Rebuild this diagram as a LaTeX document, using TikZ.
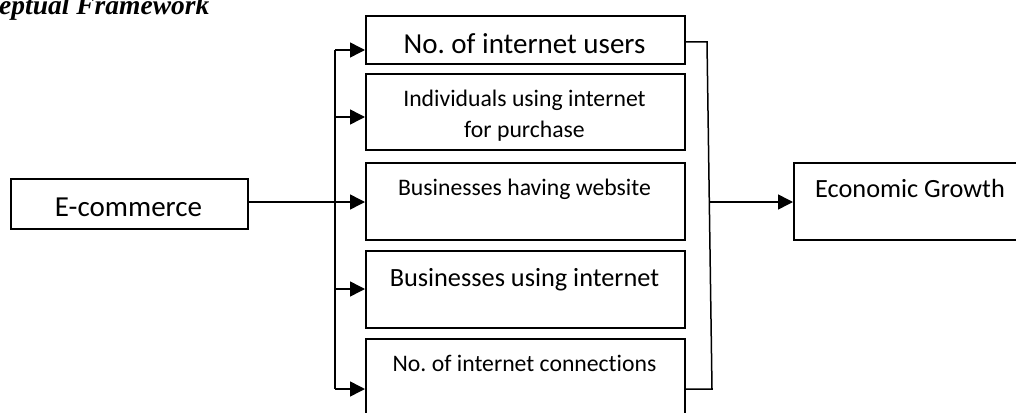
\documentclass[tikz,border=0pt]{standalone}
\usepackage{fontspec}
\setmainfont{Carlito}[RawFeature=-liga]
\newfontfamily\titlefont{Liberation Serif}
\usetikzlibrary{arrows.meta}
\frenchspacing
\tikzset{
  box/.style={draw, line width=1.8pt, rectangle, inner sep=0pt, anchor=north west},
  txt/.style={anchor=base, inner sep=0pt},
  conn/.style={line width=1.5pt},
  arr/.style={conn, -{Triangle[length=15pt,width=15pt]}},
  big/.style={font=\fontsize{29}{31}\selectfont},
  mid/.style={font=\fontsize{26.3}{30}\selectfont},
  sml/.style={font=\fontsize{23.7}{31}\selectfont},
}
\begin{document}
\begin{tikzpicture}[x=1pt,y=-1pt]
\useasboundingbox (0,0) rectangle (1016,412);
\clip (0,0) rectangle (1016,412);
% title
\node[anchor=base west, inner sep=0pt, font=\titlefont\bfseries\itshape\fontsize{27.5}{30}\selectfont] (title) at (-1,15) {eptual Framework};
% boxes
\node[box, minimum width=319pt, minimum height=48pt] (b1) at (365,15) {};
\node[box, minimum width=319pt, minimum height=76pt] (b2) at (365,73) {};
\node[box, minimum width=319pt, minimum height=77pt] (b3) at (365,162) {};
\node[box, minimum width=319pt, minimum height=77pt] (b4) at (365,250) {};
\node[box, minimum width=319pt, minimum height=92pt] (b5) at (365,338) {};
\node[box, minimum width=237pt, minimum height=50pt] (ec) at (10,178) {};
\node[box, minimum width=240pt, minimum height=77pt] (eg) at (793,162) {};
% texts
\node[txt, big] (t1) at (524.5,53) {No. of internet users};
\node[txt, sml] (t2a) at (524.5,106) {Individuals using internet};
\node[txt, sml] (t2b) at (524.5,137) {for purchase};
\node[txt, sml] (t3) at (524.5,195) {Businesses having website};
\node[txt, mid] (t4) at (524.5,286) {Businesses using internet};
\node[txt, sml] (t5) at (524.5,371) {No. of internet connections};
\node[txt, big] (tec) at (128.5,216) {E-commerce};
\node[anchor=base west, inner sep=0pt, mid] (teg) at (815,197) {Economic Growth};
% left bus
\coordinate (lt) at (335,50);
\coordinate (lb) at (335,389);
\draw[conn] (lt) -- (lb);
\draw[arr] (lt) -- (lt -| b1.west);
\draw[arr] (335,117) -- (b2.west |- 0,117);
\draw[arr] (ec.east |- 0,202) -- (b3.west |- 0,202);
\draw[arr] (335,289) -- (b4.west |- 0,289);
\draw[arr] (lb) -- (lb -| b5.west);
% right bus
\coordinate (rt) at (707,42);
\coordinate (rb) at (712,389);
\draw[conn] (b1.east |- rt) -- (rt) -- (rb) -- (b5.east |- rb);
\draw[arr] (709.6,202) -- (eg.west |- 0,202);
\end{tikzpicture}
\end{document}
